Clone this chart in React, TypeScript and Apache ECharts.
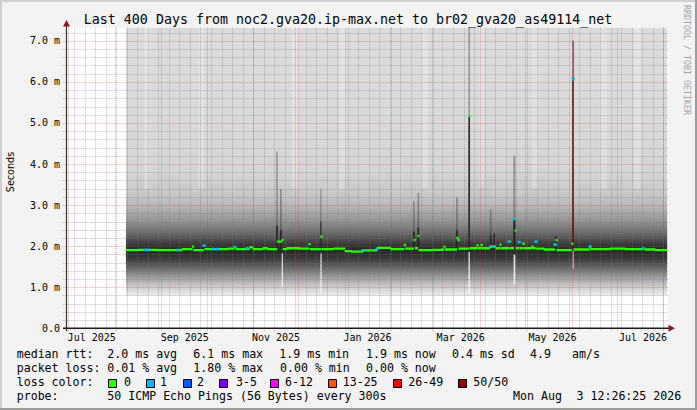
import React, { useEffect, useRef } from "react";
import * as echarts from "echarts";

// ---- data (x = days since the start of the 400 day window, 2025-06-29 12:26; y = milliseconds) ----
const xLabels = ["Jul 2025", "Sep 2025", "Nov 2025", "Jan 2026", "Mar 2026", "May 2026", "Jul 2026"];
const xLabelDays = [17.1, 79.0, 139.7, 200.6, 262.6, 323.7, 383.9];
const monthStartDays = [1.48, 32.48, 63.48, 93.48, 124.48, 154.48, 185.48, 216.48, 244.48, 275.48, 305.48, 336.48, 366.48, 397.48];
const firstWeekDay = 5.48;

const smokeStartDay = 39.9;
const smokeEndDay = 400.0;
// smoke density profile (ms level -> shade)
const smokeLevels = [7.32, 5.0, 3.8, 3.3, 3.0, 2.75, 2.5, 2.3, 2.15, 2.02, 1.92, 1.8, 1.7, 1.55, 1.4, 1.25, 1.1, 0.95, 0.83, 0.8, 0.795, 0];
const smokeShades = ["#dcdcdc", "#d9d9d9", "#d4d4d4", "#c9c9c9", "#b9b9b9", "#a2a2a2", "#858585", "#686868", "#4c4c4c", "#353535", "#2a2a2a", "#2e2e2e", "#3b3b3b", "#575757", "#777777", "#9a9a9a", "#bbbbbb", "#d6d6d6", "#e8e8e8", "#eeeeee", "#ffffff", "#ffffff"];

const medianDays = [39.9, 48, 60, 77.2, 84.0, 84.8, 91.5, 92.3, 108, 112.0, 113.0, 122.0, 124.4, 131, 134, 140.4, 143.5, 144.3, 147.0, 155, 161.5, 162.3, 169.4, 170.1, 178, 185.6, 190, 197.6, 207.0, 216.0, 224.9, 225.8, 231.3, 232.3, 234.0, 234.8, 244, 250.2, 251.3, 252.2, 259.9, 260.6, 261.3, 268.0, 268.7, 273.3, 274.0, 276.0, 276.7, 282, 286, 288.5, 289.2, 294.5, 295.2, 297.9, 298.6, 299.6, 301.2, 301.9, 303.9, 304.6, 309.8, 310.5, 312.3, 313.0, 318, 325.1, 325.8, 326.5, 336.4, 337.1, 337.8, 348.3, 349, 362, 372, 383.5, 385, 392];
const medianValues = [1.905, 1.91, 1.905, 1.93, 1.99, 1.905, 2.01, 1.93, 1.94, 1.98, 1.93, 1.97, 1.93, 1.95, 1.93, 2.11, 2.15, 1.93, 1.95, 1.94, 2.05, 1.93, 2.23, 1.93, 1.94, 1.88, 1.87, 1.9, 1.96, 1.93, 2.03, 1.94, 2.15, 1.95, 2.25, 1.905, 1.91, 1.92, 1.99, 1.92, 2.2, 2.15, 1.94, 5.17, 1.95, 2.02, 1.95, 2.03, 1.95, 1.99, 1.95, 2.04, 1.95, 2.11, 1.95, 2.66, 2.38, 1.95, 2.1, 1.95, 2.06, 1.95, 1.99, 1.95, 2.11, 1.94, 1.92, 2.04, 2.15, 1.905, 2.06, 6.07, 1.92, 1.99, 1.93, 1.94, 1.93, 1.94, 1.92, 1.905];

// median pixels with 1 lost ping
const loss1Days = [52.6, 54.3, 74.5, 91.8, 98.0, 101.0, 112.4, 120.4, 197.6, 206.9, 282.4, 285.0, 294.8, 298.1, 301.5, 312.6, 325.3, 337.4, 348.6, 383.9];
const loss1Values = [1.905, 1.905, 1.905, 2.01, 1.93, 1.93, 1.98, 1.95, 1.9, 1.93, 1.99, 1.99, 2.11, 2.66, 2.1, 2.11, 2.04, 6.07, 1.99, 1.94];

// dense smoke above the median on spike days [day from, day to, ms low, ms high]
const denseSpikes = [
  [139.8, 140.9, 1.95, 2.5], [142.4, 143.6, 1.95, 2.4], [169.2, 170.0, 1.95, 2.6], [230.9, 232.0, 1.95, 2.35],
  [233.8, 235.0, 1.95, 2.45], [259.6, 260.7, 1.95, 2.4], [267.7, 268.8, 1.95, 5.17], [282.0, 283.2, 1.95, 2.25],
  [284.5, 285.5, 1.95, 2.3], [297.6, 299.0, 1.95, 2.66], [325.3, 326.3, 1.95, 2.25],
];
const thinSpikes = [
  [139.8, 140.9, 2.5, 4.3], [142.4, 143.6, 2.4, 3.4], [169.2, 170.0, 2.6, 3.4], [230.9, 232.0, 2.35, 3.1],
  [233.8, 235.0, 2.45, 3.3], [259.6, 260.7, 2.4, 3.2], [267.7, 268.8, 5.17, 7.32], [282.0, 283.2, 2.25, 2.9],
  [297.6, 299.0, 2.66, 4.2],
];
const lossSpikes = [[336.8, 337.8, 1.92, 6.07]];
const lossSpikeTails = [[337.0, 337.5, 6.07, 7.0]];
// columns where the lower pings were missing
const clearColumns = [
  [143.5, 144.2, 1.0, 1.83], [169.3, 170.0, 0.85, 1.83], [267.8, 268.7, 0.86, 1.86], [297.8, 298.9, 1.07, 1.8],
];
const paleClearColumns = [[337.0, 338.0, 1.45, 1.88]];
// upper smoke texture
const paleColumns = [
  [52, 56, 3.4, 7.32], [88, 92, 3.4, 7.32], [150, 155, 3.4, 7.32], [182, 186, 3.4, 7.32], [236, 241, 3.4, 7.32],
  [275, 278, 3.4, 7.32], [310, 314, 3.4, 7.32], [355, 360, 3.4, 7.32], [378, 382, 3.4, 7.32],
];

const yMajorStep = 1;
const yMinorStep = 0.2;

// ---- layout ----
const GRID_LEFT = 66;
const GRID_TOP = 27.7;
const GRID_W = 602;
const GRID_H = 300.6;
const X_MAX = 400.53;
const Y_MAX = 7.32;
const MONO = "DejaVu Sans Mono";

const MINOR = "rgba(120,120,120,0.45)";
const MAJOR = "rgba(220,50,50,0.42)";

const lossColors = ["#26ff00", "#00b8ff", "#0059ff", "#7e00ff", "#ff00ff", "#ff5500", "#ff0000", "#a10000"];
const lossLabels = ["0", "1", "2", "3-5", "6-12", "13-25", "26-49", "50/50"];

function buildOption() {
  const weekDays: number[] = [];
  for (let d = firstWeekDay; d < X_MAX; d += 7) weekDays.push(d);
  const minorLevels: number[] = [];
  for (let i = 1; i * yMinorStep < Y_MAX; i++) {
    const v = +(i * yMinorStep).toFixed(2);
    if (Math.abs(v - Math.round(v)) > 1e-6) minorLevels.push(v);
  }
  const majorLevels: number[] = [];
  for (let v = yMajorStep; v < Y_MAX; v += yMajorStep) majorLevels.push(v);

  const stops = smokeLevels.map((lv, i) => ({ offset: (Y_MAX - lv) / Y_MAX, color: smokeShades[i] }));
  const gradient = new echarts.graphic.LinearGradient(0, GRID_TOP, 0, GRID_TOP + GRID_H, stops, true);

  const vLine = (stroke: string) => (params: any, api: any) => {
    const d = api.value(0);
    const t = api.coord([d, Y_MAX]);
    const b = api.coord([d, -0.07]);
    const x = Math.round(t[0]) + 0.5;
    return { type: "line", shape: { x1: x, y1: t[1], x2: x, y2: b[1] }, style: { stroke, lineWidth: 1, lineDash: [1, 1] } };
  };
  const hLine = (stroke: string) => (params: any, api: any) => {
    const v = api.value(1);
    const l = api.coord([-2.2, v]);
    const r = api.coord([X_MAX, v]);
    const y = Math.round(l[1]) + 0.5;
    return { type: "line", shape: { x1: l[0], y1: y, x2: r[0], y2: y }, style: { stroke, lineWidth: 1, lineDash: [1, 1] } };
  };
  const rectItem = (fill: string) => (params: any, api: any) => {
    const a = api.coord([api.value(0), api.value(3)]);
    const b = api.coord([api.value(1), api.value(2)]);
    const w = Math.max(1.2, b[0] - a[0]);
    return { type: "rect", shape: { x: a[0], y: a[1], width: w, height: b[1] - a[1] }, style: { fill } };
  };
  const rectSeries = (data: number[][], fill: string, z: number) => ({
    type: "custom",
    z,
    silent: true,
    clip: true,
    data,
    encode: { x: [0, 1], y: [2, 3] },
    renderItem: rectItem(fill),
  });

  const medianRows = medianDays.map((d, i) => [d, i + 1 < medianDays.length ? medianDays[i + 1] : smokeEndDay, medianValues[i]]);
  const lossRows = loss1Days.map((d, i) => [d, loss1Values[i]]);

  const graphic: any[] = [];
  const txt = (text: string, x: number, y: number, extra: any = {}) =>
    graphic.push({
      type: "text",
      x,
      y,
      z: 100,
      silent: true,
      style: { text, fill: "#000", fontFamily: MONO, fontSize: 11.6, align: "left", verticalAlign: "middle", ...extra },
    });

  // frame
  graphic.push({ type: "rect", z: 100, shape: { x: 0, y: 0, width: 697, height: 2 }, style: { fill: "#cfcfcf" } });
  graphic.push({ type: "rect", z: 100, shape: { x: 0, y: 0, width: 2, height: 410 }, style: { fill: "#cfcfcf" } });
  graphic.push({ type: "rect", z: 100, shape: { x: 695, y: 0, width: 2, height: 410 }, style: { fill: "#9c9c9c" } });
  graphic.push({ type: "rect", z: 100, shape: { x: 0, y: 408, width: 697, height: 2 }, style: { fill: "#9c9c9c" } });

  // axes with arrows
  const axisY = GRID_TOP + GRID_H;
  graphic.push({ type: "line", z: 100, shape: { x1: GRID_LEFT + 0.5, y1: axisY + 3, x2: GRID_LEFT + 0.5, y2: 25 }, style: { stroke: "#333", lineWidth: 1.2 } });
  graphic.push({ type: "line", z: 100, shape: { x1: GRID_LEFT - 3, y1: axisY, x2: GRID_LEFT + GRID_W + 1, y2: axisY }, style: { stroke: "#1a1a1a", lineWidth: 1.6 } });
  graphic.push({ type: "polygon", z: 101, shape: { points: [[GRID_LEFT + 0.5, 20], [GRID_LEFT - 3, 26.5], [GRID_LEFT + 4, 26.5]] }, style: { fill: "#8b1a1a" } });
  graphic.push({ type: "polygon", z: 101, shape: { points: [[GRID_LEFT + GRID_W + 7, axisY], [GRID_LEFT + GRID_W + 0.5, axisY - 3.5], [GRID_LEFT + GRID_W + 0.5, axisY + 3.5]] }, style: { fill: "#8b1a1a" } });

  // title and side texts
  txt("Last 400 Days from noc2.gva20.ip-max.net to br02_gva20_as49114_net", 348, 19.3, { fontSize: 13.3, align: "center" });
  graphic.push({ type: "text", x: 10, y: 172, rotation: Math.PI / 2, z: 100, style: { text: "Seconds", fill: "#000", fontFamily: "DejaVu Sans", fontSize: 9.6, align: "center", verticalAlign: "middle" } });
  graphic.push({ type: "text", x: 686.5, y: 5, rotation: -Math.PI / 2, z: 100, style: { text: "RRDTOOL / TOBI OETIKER", fill: "#a4a4a4", fontFamily: MONO, fontSize: 8.3, align: "left", verticalAlign: "middle" } });

  // legend
  const r1 = 354.3, r2 = 368.2, r3 = 382.3, r4 = 396.3;
  txt("median rtt:", 16.7, r1);
  txt("2.0 ms avg", 107.3, r1);
  txt("6.1 ms max", 193.3, r1);
  txt("1.9 ms min", 279.3, r1);
  txt("1.9 ms now", 366, r1);
  txt("0.4 ms sd", 452, r1);
  txt("4.9", 530, r1);
  txt("am/s", 572, r1);
  txt("packet loss:", 16.7, r2);
  txt("0.01 % avg", 107.3, r2);
  txt("1.80 % max", 193.3, r2);
  txt("0.00 % min", 280, r2);
  txt("0.00 % now", 366, r2);
  txt("loss color:", 16.7, r3);
  const boxX = [108.3, 145.7, 182.7, 219.3, 270, 328.3, 393.3, 458.3];
  const labX = [124, 160, 197, 236, 285, 342.7, 408.3, 473.3];
  lossColors.forEach((c, i) => {
    graphic.push({ type: "rect", z: 100, shape: { x: Math.round(boxX[i]) + 0.5, y: 379.5, width: 8, height: 8 }, style: { fill: c, stroke: "#000", lineWidth: 1 } });
    txt(lossLabels[i], labX[i], r3);
  });
  txt("probe:", 16.7, r4);
  txt("50 ICMP Echo Pings (56 Bytes) every 300s", 107.3, r4);
  txt("Mon Aug", 513, r4);
  txt("3 12:26:25 2026", 576.5, r4);

  return {
    animation: false,
    backgroundColor: "#f3f3f3",
    textStyle: { fontFamily: MONO },
    grid: { left: GRID_LEFT, top: GRID_TOP, width: GRID_W, height: GRID_H, show: true, backgroundColor: "#ffffff", borderWidth: 0 },
    xAxis: {
      type: "value",
      min: 0,
      max: X_MAX,
      axisLine: { show: false },
      axisTick: { show: false },
      splitLine: { show: false },
      axisLabel: {
        customValues: xLabelDays,
        formatter: (v: number) => {
          const i = xLabelDays.findIndex((d) => Math.abs(d - v) < 0.01);
          return i >= 0 ? xLabels[i] : "";
        },
        color: "#000",
        fontFamily: MONO,
        fontSize: 10,
        margin: 4.5,
        showMinLabel: true,
        showMaxLabel: true,
      },
    },
    yAxis: {
      type: "value",
      min: 0,
      max: Y_MAX,
      interval: yMajorStep,
      axisLine: { show: false },
      axisTick: { show: false },
      splitLine: { show: false },
      axisLabel: {
        showMaxLabel: false,
        formatter: (v: number) => (v === 0 ? "0.0" : v.toFixed(1) + " m"),
        color: "#000",
        fontFamily: MONO,
        fontSize: 10,
        margin: 6,
      },
    },
    graphic,
    series: [
      {
        type: "line",
        z: 1,
        silent: true,
        symbol: "none",
        lineStyle: { width: 0, opacity: 0 },
        areaStyle: { color: gradient, opacity: 1, origin: "start" },
        data: [[smokeStartDay, Y_MAX], [smokeEndDay, Y_MAX]],
      },
      rectSeries(paleColumns, "rgba(255,255,255,0.22)", 1.5),
      rectSeries(thinSpikes, "rgba(50,50,50,0.38)", 2),
      rectSeries(denseSpikes, "#242424", 2),
      rectSeries(clearColumns, "rgba(255,255,255,0.85)", 2),
      rectSeries(paleClearColumns, "rgba(255,255,255,0.5)", 2),
      rectSeries(lossSpikes, "#420404", 2.1),
      rectSeries(lossSpikeTails, "#5a3434", 2.1),
      { type: "custom", z: 3, silent: true, clip: false, data: weekDays.map((d) => [d, 0]), encode: { x: 0, y: 1 }, renderItem: vLine(MINOR) },
      { type: "custom", z: 3, silent: true, clip: false, data: minorLevels.map((v) => [0, v]), encode: { x: 0, y: 1 }, renderItem: hLine(MINOR) },
      { type: "custom", z: 3.1, silent: true, clip: false, data: monthStartDays.map((d) => [d, 0]), encode: { x: 0, y: 1 }, renderItem: vLine(MAJOR) },
      { type: "custom", z: 3.1, silent: true, clip: false, data: majorLevels.map((v) => [0, v]), encode: { x: 0, y: 1 }, renderItem: hLine(MAJOR) },
      {
        type: "custom",
        z: 4,
        silent: true,
        clip: true,
        data: medianRows,
        encode: { x: [0, 1], y: 2 },
        renderItem: (params: any, api: any) => {
          const a = api.coord([api.value(0), api.value(2)]);
          const b = api.coord([api.value(1), api.value(2)]);
          const w = Math.max(2.2, b[0] - a[0] + 0.6);
          return { type: "rect", shape: { x: a[0] - 0.3, y: a[1] - 1.1, width: w, height: 2.3 }, style: { fill: lossColors[0] } };
        },
      },
      {
        type: "custom",
        z: 5,
        silent: true,
        clip: true,
        data: lossRows,
        encode: { x: 0, y: 1 },
        renderItem: (params: any, api: any) => {
          const c = api.coord([api.value(0), api.value(1)]);
          return { type: "rect", shape: { x: c[0] - 1.5, y: c[1] - 1.2, width: 3, height: 2.4 }, style: { fill: lossColors[1] } };
        },
      },
    ],
  };
}

export default function App() {
  const ref = useRef<HTMLDivElement>(null);
  useEffect(() => {
    document.body.style.margin = "0";
    const chart = echarts.init(ref.current as HTMLDivElement, null, { renderer: "svg", width: 697, height: 410 });
    chart.setOption(buildOption() as any);
    return () => chart.dispose();
  }, []);
  return <div ref={ref} style={{ width: 697, height: 410 }} />;
}
